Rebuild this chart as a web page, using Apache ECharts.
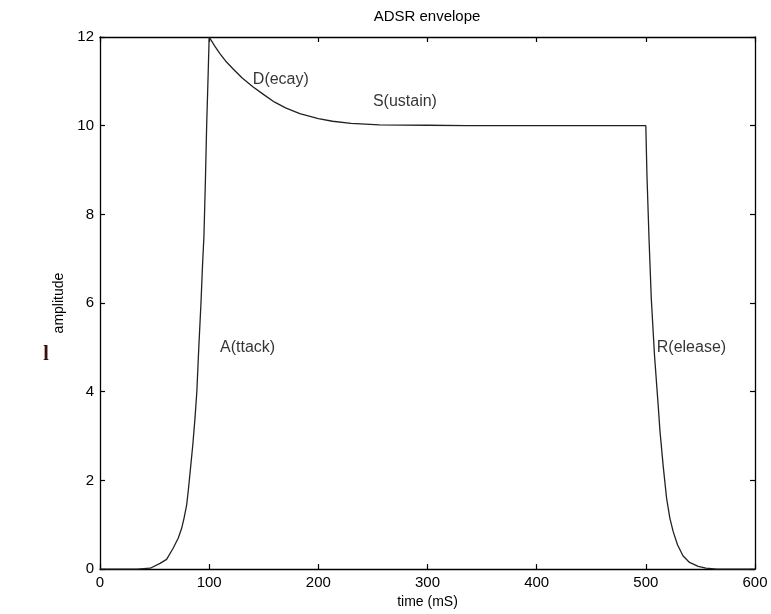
<!DOCTYPE html>
<html>
<head>
<meta charset="utf-8">
<script src="https://cdn.jsdelivr.net/npm/echarts@6/dist/echarts.min.js"></script>
<style>
  html, body { margin: 0; padding: 0; background: #fff; }
  #chart { width: 771px; height: 614px; }
</style>
</head>
<body>
<div id="chart"></div>
<script>
// ---- data ----
const chartTitle = 'ADSR envelope';
const xAxisName = 'time (mS)';
const yAxisName = 'amplitude';
const xTicks = [0, 100, 200, 300, 400, 500, 600];
const yTicks = [0, 2, 4, 6, 8, 10, 12];

const timeMs = [
  0, 20, 34, 46, 55, 61, 67, 71.7, 74.8, 77, 79.4, 81, 83, 85, 87, 88.7, 90.5, 92.5, 94, 95.2, 96.5, 97.7, 99, 100,
  105, 110, 115, 122, 130, 140, 150, 160, 170, 183, 200, 213, 230, 256, 300, 336, 400, 500,
  501, 503, 505, 508, 511, 513, 516, 519, 522, 525, 529, 534, 540, 548, 555, 565, 600
];
const amplitude = [
  0, 0, 0, 0.02, 0.13, 0.22, 0.47, 0.7, 0.92, 1.15, 1.45, 1.8, 2.3, 2.8, 3.4, 4.0, 5.0, 6.0, 6.9, 7.5, 8.7, 10.0, 11.1, 12,
  11.8, 11.62, 11.46, 11.28, 11.08, 10.88, 10.7, 10.53, 10.4, 10.27, 10.16, 10.1, 10.05, 10.02, 10.01, 10, 10, 10,
  8.9, 7.4, 6.1, 4.8, 3.8, 3.1, 2.3, 1.6, 1.15, 0.85, 0.55, 0.3, 0.15, 0.06, 0.02, 0, 0
];

const phaseLabels = ['A(ttack)', 'D(ecay)', 'S(ustain)', 'R(elease)'];
const phaseLabelT = [110, 140, 250, 510];
const phaseLabelA = [5, 11.05, 10.55, 5];

// ---- chart ----
const chart = echarts.init(document.getElementById('chart'), null, { renderer: 'canvas' });
const FONT = '"Liberation Sans", Arial, Helvetica, sans-serif';
const lineData = timeMs.map((t, i) => [t, amplitude[i]]);
const labelData = phaseLabels.map((n, i) => ({ name: n, value: [phaseLabelT[i], phaseLabelA[i]] }));

const axisLine = { show: true, onZero: false, lineStyle: { color: '#000', width: 1.3 } };
const axisTick = { show: true, inside: true, length: 5, lineStyle: { color: '#000', width: 1.2 } };

chart.setOption({
  animation: false,
  backgroundColor: '#fff',
  grid: { left: 100, right: 16, top: 37, bottom: 43, containLabel: false },
  xAxis: [
    {
      type: 'value', position: 'bottom', min: 0, max: 600, interval: 100,
      name: xAxisName, nameLocation: 'middle', nameGap: 24,
      nameTextStyle: { fontFamily: FONT, fontSize: 14, color: '#000' },
      axisLine, axisTick, splitLine: { show: false },
      axisLabel: { show: true, margin: 6, fontFamily: FONT, fontSize: 15, color: '#000' }
    },
    {
      type: 'value', position: 'top', min: 0, max: 600, interval: 100,
      axisLine, axisTick, splitLine: { show: false }, axisLabel: { show: false }
    }
  ],
  yAxis: [
    {
      type: 'value', position: 'left', min: 0, max: 12, interval: 2,
      name: yAxisName, nameLocation: 'middle', nameGap: 28,
      nameTextStyle: { fontFamily: FONT, fontSize: 14, color: '#000' },
      axisLine, axisTick, splitLine: { show: false },
      axisLabel: { show: true, margin: 6, fontFamily: FONT, fontSize: 15, color: '#000' }
    },
    {
      type: 'value', position: 'right', min: 0, max: 12, interval: 2,
      axisLine, axisTick, splitLine: { show: false }, axisLabel: { show: false }
    }
  ],
  series: [
    {
      type: 'line', xAxisIndex: 0, yAxisIndex: 0, data: lineData,
      showSymbol: false, symbol: 'none', smooth: false,
      lineStyle: { color: '#222', width: 1.3 }
    },
    {
      type: 'scatter', xAxisIndex: 0, yAxisIndex: 0, data: labelData,
      symbolSize: 0, silent: true,
      label: {
        show: true, position: 'right', distance: 0, formatter: '{b}',
        fontFamily: FONT, fontSize: 16, color: '#000'
      }
    }
  ],
  graphic: [
    {
      type: 'text', x: 427, y: 17,
      style: { text: chartTitle, fontFamily: FONT, fontSize: 15, fill: '#000', textAlign: 'center', textVerticalAlign: 'middle' }
    },
    {
      type: 'text', x: 46, y: 355,
      style: { text: 'l', fontFamily: '"Liberation Serif", serif', fontWeight: 'bold', fontSize: 20, fill: '#3a1010', textAlign: 'center', textVerticalAlign: 'middle' }
    }
  ]
});
</script>
</body>
</html>
